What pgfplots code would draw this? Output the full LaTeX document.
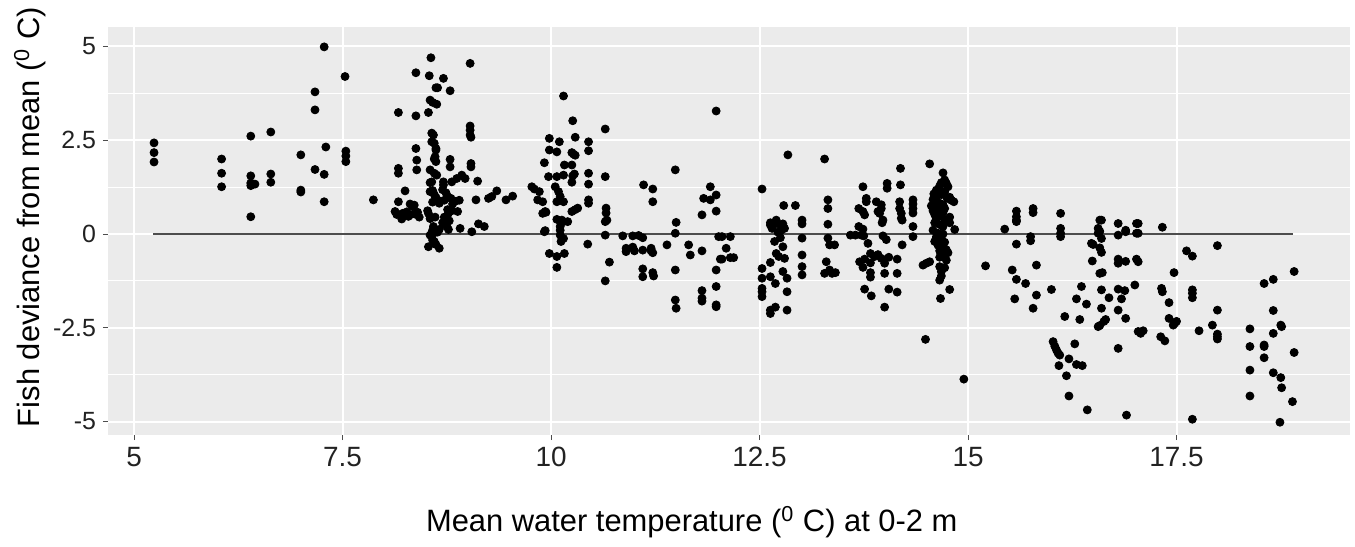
\documentclass[border=0pt]{standalone}
\usepackage{pgfplots}
\pgfplotsset{compat=1.18}
\usepackage{pgfplotstable}
\usepackage{fontspec}
\setmainfont{Liberation Sans}

\definecolor{ggbg}{HTML}{EBEBEB}
\definecolor{ggtext}{HTML}{222222}
\definecolor{ggline}{HTML}{4D4D4D}

% fish deviance vs. mean water temperature
\pgfplotstableread{
x y
5.24 2.43
5.24 2.17
5.24 1.92
6.05 2.00
6.05 1.62
6.05 1.26
6.40 2.61
6.40 1.55
6.40 1.36
6.40 1.29
6.45 1.33
6.40 0.46
6.64 2.72
6.64 1.60
6.64 1.38
7.00 2.11
7.00 1.17
7.00 1.12
7.17 3.79
7.17 3.31
7.17 1.72
7.28 4.99
7.30 2.32
7.28 1.59
7.28 0.86
7.53 4.20
7.54 2.21
7.54 2.08
7.54 1.93
7.87 0.91
8.17 3.24
8.17 1.75
8.17 1.62
8.17 0.86
8.15 0.52
8.21 0.40
8.13 0.60
8.25 1.15
8.27 0.59
8.31 0.80
8.34 0.73
8.36 0.77
8.31 0.51
8.37 0.53
8.22 0.55
8.29 0.47
8.38 4.30
8.38 3.15
8.38 2.28
8.39 1.97
8.39 1.71
8.40 0.58
8.42 0.45
8.56 4.70
8.54 4.22
8.64 3.90
8.62 3.90
8.55 3.57
8.58 3.51
8.63 3.46
8.53 3.24
8.57 2.69
8.59 2.64
8.57 2.46
8.60 2.42
8.62 2.28
8.62 2.24
8.61 2.06
8.60 2.00
8.62 1.93
8.55 1.71
8.60 1.62
8.63 1.57
8.55 1.37
8.57 1.39
8.55 1.13
8.58 1.16
8.60 1.05
8.62 0.98
8.58 0.85
8.64 0.90
8.66 0.82
8.52 0.62
8.53 0.55
8.55 0.41
8.61 0.45
8.59 0.20
8.58 0.10
8.60 0.03
8.64 0.05
8.66 0.12
8.55 -0.03
8.57 0.02
8.60 -0.20
8.53 -0.34
8.66 -0.38
8.58 -0.16
8.62 -0.28
8.71 4.15
8.79 3.82
8.79 1.99
8.79 1.79
8.71 1.39
8.71 1.31
8.81 1.39
8.70 1.18
8.74 1.10
8.76 1.00
8.80 0.95
8.72 0.90
8.85 0.87
8.82 0.80
8.76 0.65
8.77 0.55
8.81 0.62
8.72 0.45
8.75 0.20
8.77 0.12
8.70 0.30
8.74 0.27
8.78 0.35
8.87 1.48
8.93 1.57
8.97 1.48
8.91 0.15
8.90 0.90
8.88 0.60
9.03 4.55
9.03 2.88
9.03 2.77
9.03 2.64
9.04 2.58
9.04 1.88
9.04 1.79
9.12 1.41
9.10 0.91
9.05 0.06
9.13 0.27
9.20 0.20
9.25 0.95
9.29 1.00
9.35 1.15
9.46 0.91
9.54 1.01
9.77 1.26
9.80 1.20
9.86 1.13
9.84 0.91
9.90 0.86
9.93 0.60
9.90 0.55
9.94 0.58
9.93 0.09
9.92 0.06
9.98 -0.52
9.98 2.55
9.98 2.24
10.10 2.46
10.07 2.19
9.92 1.90
9.97 1.53
10.07 1.53
10.16 1.84
10.15 1.57
10.05 1.26
10.09 1.13
10.11 1.00
10.07 0.86
10.15 0.86
10.07 0.39
10.15 0.33
10.20 0.33
10.11 0.20
10.11 0.10
10.11 -0.03
10.07 -0.60
10.07 -0.89
10.16 -0.52
10.13 0.37
10.15 -0.12
10.12 -0.20
10.15 3.68
10.26 3.02
10.29 2.58
10.27 2.13
10.29 2.10
10.25 2.17
10.25 1.84
10.28 1.60
10.26 1.55
10.25 1.38
10.25 0.60
10.29 0.65
10.32 0.69
10.45 2.46
10.45 2.22
10.45 1.62
10.45 1.33
10.45 0.91
10.45 0.82
10.44 -0.27
10.65 2.80
10.65 1.53
10.66 0.69
10.66 0.56
10.67 0.37
10.65 0.33
10.65 -0.03
10.70 -0.75
10.65 -1.25
10.86 -0.05
10.98 -0.05
11.05 -0.04
11.10 -0.10
10.90 -0.38
10.90 -0.47
10.98 -0.35
11.00 -0.45
11.10 -0.43
11.20 -0.38
11.22 -0.50
11.20 -0.45
11.10 -0.93
11.10 -1.14
11.22 -1.03
11.23 -1.12
11.11 1.31
11.22 1.20
11.22 0.86
11.39 -0.29
11.49 1.71
11.50 0.31
11.49 0.02
11.49 -0.96
11.49 -1.76
11.50 -1.98
11.65 -0.29
11.67 -0.56
11.81 -0.45
11.81 -1.51
11.81 -1.71
11.81 -1.79
11.91 1.26
11.98 1.04
11.83 0.95
11.91 0.91
11.98 0.61
11.81 0.51
11.98 3.28
11.98 -0.96
11.98 -1.40
11.98 -1.89
11.98 -1.94
12.03 -0.67
12.01 -0.07
12.05 -0.07
12.15 -0.07
12.10 -0.38
12.05 -0.67
12.15 -0.63
12.19 -0.63
12.53 1.20
12.53 -0.92
12.53 -1.18
12.53 -1.45
12.53 -1.54
12.53 -1.67
12.63 0.30
12.65 0.15
12.70 0.37
12.72 0.05
12.76 0.10
12.80 0.15
12.63 0.24
12.72 0.27
12.78 0.27
12.79 0.76
12.84 2.11
12.93 0.76
12.70 -0.52
12.73 -0.60
12.80 -0.65
12.78 -0.34
12.63 -0.76
12.63 -1.14
12.69 -1.32
12.63 -2.03
12.63 -2.12
12.69 -1.95
12.78 -1.00
12.83 -1.18
12.83 -1.54
12.83 -2.03
12.68 -0.20
12.75 -0.10
13.01 0.37
13.01 0.27
13.01 -0.11
13.01 -0.56
13.01 -0.87
13.01 -1.09
13.28 2.00
13.32 0.91
13.32 0.68
13.32 0.26
13.32 -0.11
13.34 -0.29
13.40 -0.29
13.30 -0.74
13.28 -1.05
13.34 -0.96
13.37 -1.05
13.41 -1.03
13.59 -0.03
13.65 -0.03
13.72 -0.03
13.75 -0.05
13.69 0.20
13.74 0.13
13.74 1.26
13.78 0.95
13.78 0.86
13.69 0.68
13.74 0.60
13.76 0.51
13.80 -0.25
13.83 -0.52
13.70 -0.74
13.74 -0.89
13.76 -0.67
13.83 -0.77
13.83 -1.03
13.83 -1.15
13.76 -1.47
13.84 -1.65
13.90 0.86
13.96 0.78
13.96 0.68
13.92 0.60
13.94 0.55
13.98 0.37
14.03 1.35
14.03 1.22
13.97 0.30
13.98 -0.05
14.02 -0.15
13.92 -0.55
13.96 -0.65
13.88 -0.60
14.00 -0.78
14.05 -0.62
14.00 -1.05
14.05 -1.47
14.00 -1.95
14.19 1.75
14.19 1.31
14.18 0.86
14.18 0.68
14.20 0.55
14.20 0.42
14.21 0.37
14.21 -0.29
14.15 -0.67
14.15 -1.05
14.15 -1.55
14.34 0.91
14.34 0.80
14.34 0.68
14.34 0.56
14.34 0.20
14.34 -0.07
14.46 -0.83
14.50 -0.78
14.54 -0.74
14.49 -2.81
14.54 1.87
14.70 1.63
14.72 1.44
14.68 1.37
14.74 1.35
14.66 1.28
14.76 1.26
14.62 1.17
14.66 1.20
14.72 1.13
14.68 1.05
14.62 1.00
14.78 0.98
14.80 0.90
14.58 0.92
14.62 0.85
14.66 0.82
14.70 0.78
14.56 0.75
14.62 0.70
14.72 0.68
14.64 0.62
14.70 0.58
14.60 0.52
14.68 0.48
14.62 0.42
14.72 0.38
14.78 0.30
14.60 0.30
14.66 0.25
14.70 0.20
14.84 0.12
14.58 0.10
14.64 0.02
14.70 0.00
14.62 -0.08
14.68 -0.12
14.60 -0.20
14.72 -0.22
14.64 -0.30
14.70 -0.35
14.74 -0.42
14.66 -0.45
14.76 -0.50
14.70 -0.58
14.66 -0.62
14.74 -0.70
14.66 -0.87
14.72 -0.90
14.68 -1.00
14.68 -1.12
14.66 -1.23
14.78 -1.48
14.67 -1.72
14.83 0.86
14.59 1.07
14.75 0.95
14.58 0.62
14.64 0.55
14.78 0.45
14.95 -3.87
15.21 -0.85
15.44 0.13
15.58 0.61
15.58 0.46
15.58 0.37
15.58 0.33
15.58 -0.27
15.53 -0.96
15.58 -1.21
15.56 -1.73
15.69 -1.32
15.78 0.68
15.78 0.57
15.75 -0.07
15.75 -0.18
15.82 -0.83
15.82 -1.63
15.78 -1.98
16.00 -1.48
16.11 0.55
16.11 0.15
16.11 0.02
16.11 -0.07
16.02 -2.87
16.04 -2.99
16.06 -3.09
16.08 -3.18
16.10 -3.23
16.09 -3.51
16.16 -2.20
16.18 -3.78
16.21 -3.33
16.28 -2.93
16.30 -3.48
16.37 -3.51
16.21 -4.32
16.34 -2.28
16.36 -1.40
16.30 -1.73
16.42 -1.87
16.43 -4.69
16.58 0.37
16.60 0.37
16.56 0.15
16.56 0.02
16.58 0.07
16.60 -0.12
16.48 -0.25
16.50 -0.28
16.58 -0.37
16.60 -0.49
16.49 -0.72
16.58 -1.05
16.61 -1.03
16.60 -1.49
16.69 -1.70
16.60 -1.98
16.65 -2.28
16.63 -2.33
16.58 -2.44
16.56 -2.47
16.80 0.28
16.89 0.10
16.80 -0.03
16.89 0.06
16.80 -0.67
16.80 -0.78
16.89 -0.73
16.80 -1.47
16.88 -1.51
16.84 -1.73
16.80 -2.03
16.89 -2.25
16.80 -3.05
16.90 -4.83
17.02 0.28
17.04 0.28
17.02 0.02
17.04 0.02
17.02 -0.67
17.04 -0.74
17.00 -1.36
17.04 -2.60
17.10 -2.58
17.07 -2.65
17.33 0.18
17.32 -1.45
17.33 -1.54
17.31 -2.74
17.36 -2.85
17.41 -1.83
17.41 -2.25
17.46 -2.43
17.50 -2.33
17.48 -2.38
17.47 -1.03
17.62 -0.45
17.69 -0.59
17.69 -1.49
17.69 -1.58
17.69 -1.70
17.77 -2.58
17.69 -4.94
17.93 -2.43
17.99 -2.03
17.99 -2.67
17.99 -2.74
17.99 -2.80
17.99 -0.31
18.38 -2.53
18.38 -3.00
18.38 -3.63
18.38 -4.32
18.55 -2.96
18.55 -3.00
18.55 -3.30
18.55 -1.32
18.66 -1.21
18.66 -2.04
18.66 -2.65
18.66 -3.70
18.75 -3.83
18.76 -4.10
18.75 -2.43
18.76 -2.47
18.74 -5.02
18.91 -1.00
18.91 -3.16
18.89 -4.47
}\fishdata

\pgfplotstableread{
x y
5.23 0
18.90 0
}\zeroline

\begin{document}
\begin{tikzpicture}
\useasboundingbox (-54bp,-56bp) rectangle (623.5bp,217.5bp);
\begin{axis}[
    scale only axis,
    width=621bp, height=204bp,
    xmin=4.688, xmax=19.58,
    ymin=-5.36, ymax=5.52,
    axis background/.style={fill=ggbg},
    axis line style={draw=none},
    xtick={5,7.5,10,12.5,15,17.5},
    xticklabels={5,7.5,10,12.5,15,17.5},
    ytick={-5,-2.5,0,2.5,5},
    yticklabels={-5,-2.5,0,2.5,5},
    minor ytick={-3.75,-1.25,1.25,3.75},
    xtick pos=bottom, ytick pos=left,
    xmajorgrids, ymajorgrids, yminorgrids,
    major grid style={white, line width=1bp},
    minor grid style={white, line width=0.6bp},
    tick align=outside,
    major tick length=2.5bp,
    minor tick length=0pt,
    tick style={ggline, line width=0.5bp},
    xticklabel style={font=\fontsize{14}{16}\selectfont, text=ggtext},
    yticklabel style={font=\fontsize{12.5}{15}\selectfont, text=ggtext},
    xlabel={Mean water temperature (\textsuperscript{0} C) at 0-2 m},
    ylabel={Fish deviance from mean (\textsuperscript{0} C)},
    label style={font=\fontsize{15.5}{18}\selectfont, text=black},
    xlabel style={at={(axis description cs:0.47,-0.213)}, anchor=center},
    ylabel style={at={(axis description cs:-0.0628,0.534)}, anchor=center},
]
\addplot[ggline, line width=0.8bp, no marks] table[x=x, y=y] {\zeroline};
\addplot[only marks, mark=*, mark size=2bp, black] table[x=x, y=y] {\fishdata};
\end{axis}
\end{tikzpicture}
\end{document}
